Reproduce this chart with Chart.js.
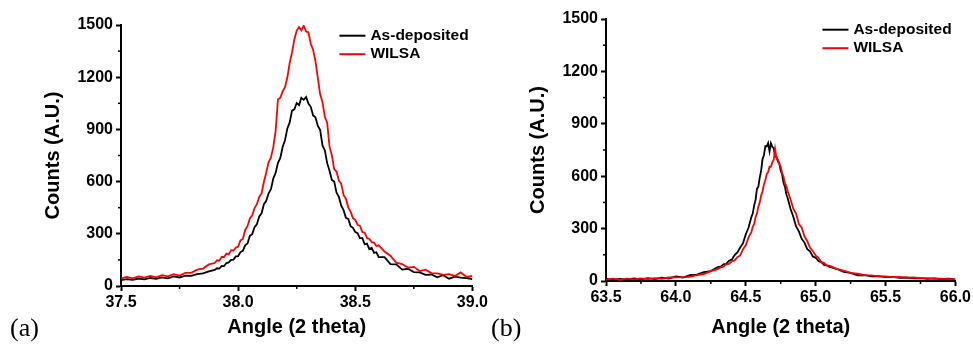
<!DOCTYPE html>
<html>
<head>
<meta charset="utf-8">
<script src="https://cdn.jsdelivr.net/npm/chart.js@4.4.1/dist/chart.umd.min.js"></script>
<style>
  body { margin: 0; background: #fff; width: 973px; height: 345px; overflow: hidden; position: relative; }
  .panel { position: absolute; top: 0; height: 345px; }
  .tag { position: absolute; top: 313px; font: 26px/30px "Liberation Serif", "Times New Roman", serif; color: #000; }
</style>
</head>
<body>
<div class="panel" style="left:0;width:490px"><canvas id="chartA" width="490" height="345"></canvas></div>
<div class="panel" style="left:490px;width:483px"><canvas id="chartB" width="483" height="345"></canvas></div>
<div class="tag" style="left:10px">(a)</div>
<div class="tag" style="left:491px">(b)</div>
<script>
// panel (a): 2 theta in degrees, counts
const angleA = [
  37.500, 37.525, 37.550, 37.575, 37.600, 37.625, 37.650, 37.675, 37.700, 37.725, 37.750, 37.775, 37.800, 37.825, 37.850, 37.875, 37.900,
  37.91, 37.92, 37.93, 37.94, 37.95, 37.96, 37.97, 37.98, 37.99, 38.00,
  38.01, 38.02, 38.03, 38.04, 38.05, 38.06, 38.07, 38.08, 38.09, 38.10,
  38.11, 38.12, 38.13, 38.14, 38.15, 38.16, 38.17, 38.18, 38.19, 38.20,
  38.21, 38.22, 38.23, 38.24, 38.25, 38.26, 38.27, 38.28, 38.29, 38.30,
  38.31, 38.32, 38.33, 38.34, 38.35, 38.36, 38.37, 38.38, 38.39, 38.40,
  38.41, 38.42, 38.43, 38.44, 38.45, 38.46, 38.47, 38.48, 38.49, 38.50,
  38.51, 38.52, 38.53, 38.54, 38.55, 38.56, 38.57, 38.58, 38.59, 38.60,
  38.625, 38.650, 38.675, 38.700, 38.725, 38.750, 38.775, 38.800, 38.825, 38.850, 38.875, 38.900, 38.925, 38.950, 38.975, 39.000
];
const depositedA = [
  34, 40, 35, 43, 38, 46, 41, 50, 44, 55, 49, 60, 58, 68, 72, 84, 92,
  102, 100, 115, 114, 132, 136, 150, 152, 170, 172,
  195, 202, 234, 244, 288, 298, 338, 355, 400, 418,
  470, 490, 532, 556, 618, 650, 708, 736, 800, 838,
  905, 940, 1008, 1015, 1052, 1040, 1082, 1070, 1086, 1048,
  1030, 980, 970, 920, 898, 808, 780, 706, 662, 610,
  600, 536, 512, 462, 436, 392, 386, 344, 334, 310,
  304, 274, 276, 240, 244, 212, 220, 190, 194, 166,
  166, 126, 124, 94, 99, 80, 78, 64, 66, 50, 62, 42, 54, 48, 46, 40
];
const wilsaA = [
  44, 52, 44, 55, 48, 58, 50, 62, 55, 68, 60, 75, 76, 94, 100, 124, 132,
  148, 146, 168, 166, 186, 182, 206, 204, 220, 226,
  262, 270, 322, 344, 388, 405, 448, 470, 512, 532,
  598, 652, 712, 738, 798, 892, 1072, 1082, 1118, 1142,
  1198, 1282, 1342, 1418, 1468, 1488, 1470, 1496, 1462, 1458,
  1392, 1358, 1292, 1198, 1102, 1058, 972, 938, 802, 752,
  672, 658, 606, 588, 522, 502, 452, 428, 390, 380,
  352, 346, 310, 306, 276, 270, 252, 250, 230, 234,
  198, 174, 134, 126, 106, 110, 86, 94, 74, 72, 64, 68, 58, 78, 52, 58
];

// panel (b)
const angleB = [
  63.50, 63.55, 63.60, 63.65, 63.70, 63.75, 63.80, 63.85, 63.90, 63.95, 64.00, 64.05, 64.10, 64.15, 64.20, 64.25, 64.30,
  64.32, 64.34, 64.36, 64.38, 64.40, 64.42, 64.44, 64.46, 64.48, 64.50, 64.52, 64.54,
  64.55, 64.56, 64.57, 64.58, 64.59, 64.60, 64.61, 64.62, 64.63, 64.64,
  64.65, 64.66, 64.67, 64.68, 64.69, 64.70, 64.71, 64.72, 64.73, 64.74,
  64.75, 64.76, 64.77, 64.78, 64.79, 64.80,
  64.82, 64.84, 64.86, 64.88, 64.90, 64.92, 64.94, 64.96, 64.98, 65.00, 65.02, 65.04, 65.06, 65.08, 65.10,
  65.15, 65.20, 65.25, 65.30, 65.35, 65.40, 65.45, 65.50, 65.55, 65.60, 65.65, 65.70, 65.75, 65.80, 65.85, 65.90, 65.95, 66.00
];
const depositedB = [
  14, 7, 12, 8, 15, 9, 16, 11, 19, 14, 26, 20, 33, 36, 51, 57, 79,
  82, 95, 98, 116, 122, 148, 164, 192, 216, 268, 306, 366,
  386, 432, 464, 528, 540, 592, 632, 698, 720, 772,
  770, 790, 742, 788, 768, 760, 712, 710, 684, 676,
  632, 610, 562, 540, 498, 474,
  414, 368, 312, 284, 242, 220, 182, 170, 140, 134, 114, 108, 92, 90, 80,
  70, 52, 46, 33, 34, 26, 28, 22, 24, 18, 20, 15, 17, 12, 15, 10, 13, 9
];
const wilsaB = [
  8, 13, 7, 13, 9, 15, 11, 16, 13, 20, 21, 22, 24, 34, 40, 56, 68,
  78, 82, 95, 98, 113, 118, 136, 146, 182, 204, 250, 280,
  310, 326, 366, 386, 426, 450, 490, 514, 552, 578,
  612, 624, 654, 654, 680, 694, 756, 704, 696, 666,
  656, 618, 598, 558, 546, 514,
  468, 414, 386, 326, 306, 256, 228, 190, 172, 146, 134, 108, 104, 88, 88,
  70, 60, 46, 42, 34, 32, 26, 27, 22, 23, 19, 20, 16, 17, 13, 14, 11, 11
];

const angleTicksA = [37.5, 38.0, 38.5, 39.0];
const angleTicksB = [63.5, 64.0, 64.5, 65.0, 65.5, 66.0];
const countTicks = [0, 300, 600, 900, 1200, 1500];
const seriesNames = ['As-deposited', 'WILSA'];

Chart.defaults.font.family = '"Liberation Sans", Arial, sans-serif';
Chart.defaults.color = '#000';

// small ticks halfway between the labelled ones
const minorTicks = {
  id: 'minorTicks',
  afterDraw(chart) {
    const ctx = chart.ctx;
    ctx.save();
    ctx.strokeStyle = '#000';
    ctx.lineWidth = 1.5;
    ['x', 'y'].forEach(id => {
      const s = chart.scales[id];
      for (let i = 0; i < s.ticks.length - 1; i++) {
        const p = s.getPixelForValue((s.ticks[i].value + s.ticks[i + 1].value) / 2);
        ctx.beginPath();
        if (s.isHorizontal()) { ctx.moveTo(p, s.top); ctx.lineTo(p, s.top + 3); }
        else { ctx.moveTo(s.right, p); ctx.lineTo(s.right - 3, p); }
        ctx.stroke();
      }
    });
    ctx.restore();
  }
};

// legend inside the plot, top right
const insideLegend = {
  id: 'insideLegend',
  afterDraw(chart, args, opts) {
    const { ctx, chartArea } = chart;
    ctx.save();
    ctx.font = 'bold 15.5px "Liberation Sans", Arial, sans-serif';
    ctx.textBaseline = 'middle';
    chart.data.datasets.forEach((ds, i) => {
      const x = chartArea.right - opts.right;
      const y = chartArea.top + opts.top + i * opts.gap;
      ctx.strokeStyle = ds.borderColor;
      ctx.lineWidth = 2;
      ctx.beginPath();
      ctx.moveTo(x, y);
      ctx.lineTo(x + 26, y);
      ctx.stroke();
      ctx.fillStyle = '#000';
      ctx.fillText(ds.label, x + 31, y);
    });
    ctx.restore();
  }
};

function makeChart(id, angle, deposited, wilsa, xTicks, area, yTitlePad) {
  const canvas = document.getElementById(id);
  const W = canvas.width, H = canvas.height;
  const tickFont = { size: 16, weight: 'bold' };
  const titleFont = { size: 20, weight: 'bold' };
  return new Chart(canvas, {
    type: 'line',
    data: {
      datasets: [
        { label: seriesNames[0], data: angle.map((a, i) => ({ x: a, y: deposited[i] })), borderColor: '#000000', order: 1 },
        { label: seriesNames[1], data: angle.map((a, i) => ({ x: a, y: wilsa[i] })), borderColor: '#ff0000', order: 0 }
      ]
    },
    options: {
      responsive: false,
      animation: false,
      layout: { padding: { top: area.top, right: W - area.right, left: 0, bottom: 0 } },
      elements: { point: { radius: 0 }, line: { borderWidth: 1.8, tension: 0 } },
      plugins: {
        legend: { display: false },
        tooltip: { enabled: false },
        insideLegend: { right: 133, top: 10.7, gap: 18.5 }
      },
      scales: {
        x: {
          type: 'linear',
          min: xTicks[0],
          max: xTicks[xTicks.length - 1],
          afterBuildTicks: s => { s.ticks = xTicks.map(v => ({ value: v })); },
          afterFit: s => { s.height = H - area.bottom; },
          ticks: { font: tickFont, color: '#000', padding: 2, maxRotation: 0, autoSkip: false, callback: v => v.toFixed(1) },
          grid: { drawOnChartArea: false, drawTicks: true, tickLength: 5, tickWidth: 2, tickColor: '#000' },
          border: { display: true, color: '#000', width: 2 },
          title: { display: true, text: 'Angle (2 theta)', font: titleFont, color: '#000', padding: { top: 0, bottom: 6 } }
        },
        y: {
          min: 0,
          max: 1500,
          afterBuildTicks: s => { s.ticks = countTicks.map(v => ({ value: v })); },
          afterFit: s => { s.width = area.left; },
          ticks: { font: tickFont, color: '#000', padding: 3, autoSkip: false, callback: v => String(v) },
          grid: { drawOnChartArea: false, drawTicks: true, tickLength: 5, tickWidth: 2, tickColor: '#000' },
          border: { display: true, color: '#000', width: 2 },
          title: { display: true, text: 'Counts (A.U.)', font: titleFont, color: '#000', padding: { top: yTitlePad, bottom: 0 } }
        }
      }
    },
    plugins: [minorTicks, insideLegend]
  });
}

makeChart('chartA', angleA, depositedA, wilsaA, angleTicksA, { left: 121, right: 473, top: 25, bottom: 286 }, 41);
makeChart('chartB', angleB, depositedB, wilsaB, angleTicksB, { left: 116, right: 467, top: 19, bottom: 281 }, 36);
</script>
</body>
</html>
